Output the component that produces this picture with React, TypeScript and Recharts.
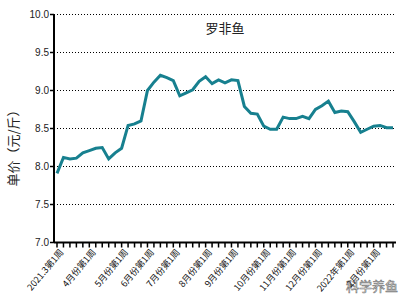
import React from 'react';
import { LineChart, Line, XAxis, YAxis, CartesianGrid, Customized } from 'recharts';

// month start labels and how many weekly points each month has
const monthLabels = [
  '2021.3第1周', '4月份第1周', '5月份第1周', '6月份第1周', '7月份第1周', '8月份第1周',
  '9月份第1周', '10月份第1周', '11月份第1周', '12月份第1周', '2022年第1周', '2月份第1周',
];
const monthWeeks = [5, 5, 4, 4, 5, 4, 5, 4, 4, 5, 4, 4];

// weekly price, yuan per jin
const prices = [
  7.91, 8.12, 8.10, 8.11, 8.18, 8.21, 8.24, 8.25, 8.10, 8.18,
  8.24, 8.54, 8.56, 8.60, 9.00, 9.11, 9.20, 9.17, 9.13, 8.93,
  8.97, 9.01, 9.12, 9.18, 9.09, 9.14, 9.10, 9.14, 9.13, 8.79,
  8.70, 8.69, 8.53, 8.49, 8.49, 8.65, 8.63, 8.63, 8.66, 8.63,
  8.75, 8.80, 8.86, 8.71, 8.73, 8.72, 8.59, 8.45, 8.49, 8.53,
  8.54, 8.51, 8.51,
];

const yTicks = [7.0, 7.5, 8.0, 8.5, 9.0, 9.5, 10.0];

const weekNames: string[] = [];
monthLabels.forEach((m, i) => {
  for (let k = 0; k < monthWeeks[i]; k++) weekNames.push(k === 0 ? m : `${m}#${k + 1}`);
});

const data = weekNames.map((week, i) => ({ week, price: prices[i] }));

const XTick = (props: any) => {
  const { x, y, payload } = props;
  if (!monthLabels.includes(payload.value)) return null;
  return (
    <text
      transform={`translate(${x + 7},${y + 3}) rotate(-50)`}
      textAnchor="end"
      fontSize={9}
      fontFamily="'Noto Sans CJK SC', sans-serif"
      fill="#111"
    >
      {payload.value}
    </text>
  );
};

const Extras = () => (
  <g>
    <text x={225} y={33} textAnchor="middle" fontSize={13} fontFamily="'Noto Sans CJK SC', sans-serif" fill="#222">
      罗非鱼
    </text>
    <text
      transform="translate(18,145) rotate(-90)"
      textAnchor="middle"
      fontSize={13}
      fontFamily="'Noto Sans CJK SC', sans-serif"
      fill="#222"
    >
      单价（元/斤）
    </text>
    <text
      x={346}
      y={291}
      fontSize={13}
      fontFamily="'Noto Sans CJK SC', sans-serif"
      fill="#fff"
      stroke="#777"
      strokeWidth={0.6}
    >
      科学养鱼
    </text>
  </g>
);

export default function App() {
  return (
    <div style={{ position: 'absolute', left: 0, top: 0, background: '#fff' }}>
      <LineChart width={401} height={303} data={data} margin={{ top: 14.5, right: 5, bottom: 0, left: 0 }}>
        <CartesianGrid vertical={false} stroke="#000" strokeDasharray="1 2" />
        <XAxis
          dataKey="week"
          interval={0}
          height={60.5}
          padding={{ left: 3, right: 3 }}
          tick={<XTick />}
          tickSize={5}
          tickMargin={2}
          tickLine={{ stroke: '#000', strokeWidth: 1.5 }}
          axisLine={{ stroke: '#000', strokeWidth: 2 }}
        />
        <YAxis
          domain={[7, 10]}
          ticks={yTicks}
          width={54}
          tickSize={4}
          tickMargin={1}
          tickFormatter={(v: number) => v.toFixed(1)}
          tick={{ fontSize: 10, fill: '#222', fontFamily: "'Liberation Sans', sans-serif" }}
          tickLine={{ stroke: '#000', strokeWidth: 1.5 }}
          axisLine={{ stroke: '#000', strokeWidth: 2 }}
        />
        <Line
          type="linear"
          dataKey="price"
          stroke="#17808f"
          strokeWidth={3}
          dot={false}
          isAnimationActive={false}
        />
        <Customized component={Extras} />
      </LineChart>
    </div>
  );
}
